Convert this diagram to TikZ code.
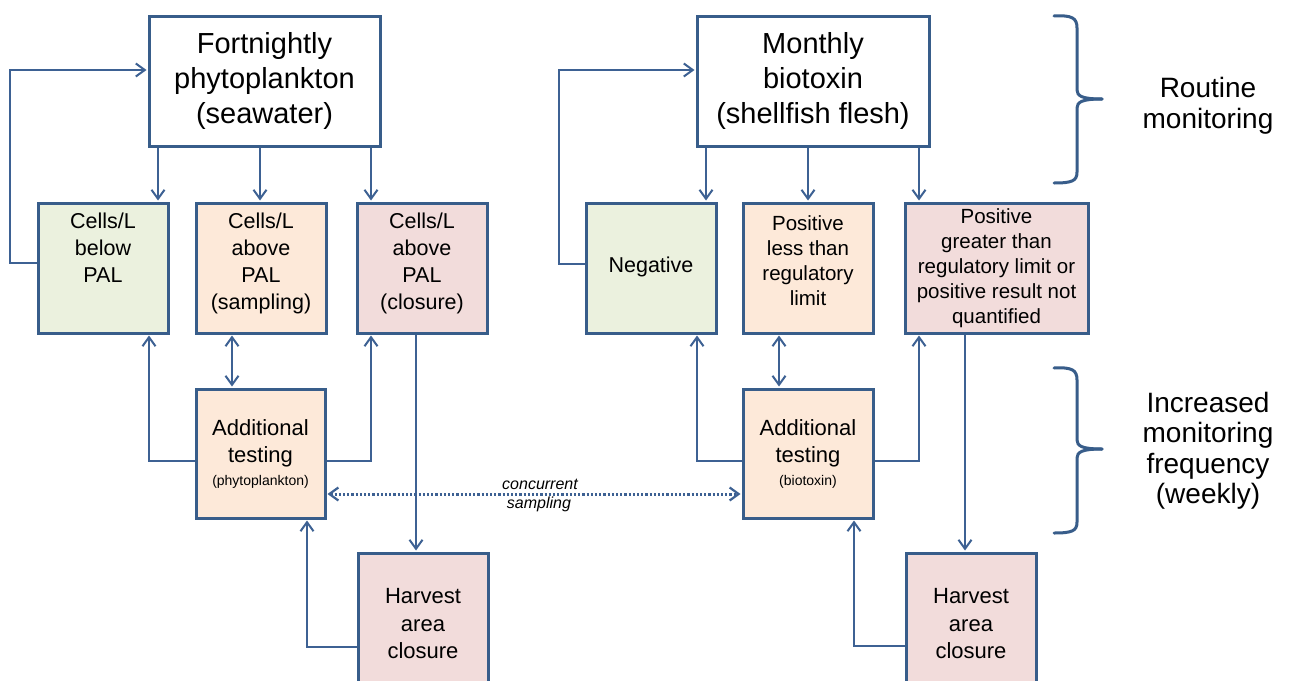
\documentclass[tikz,border=0pt]{standalone}
\usepackage{fontspec}
\setmainfont{Liberation Sans}
\usetikzlibrary{arrows.meta}
\definecolor{bord}{HTML}{385D8A}
\definecolor{ln}{HTML}{3D6193}
\definecolor{fgreen}{HTML}{EBF1DE}
\definecolor{forange}{HTML}{FDE9D9}
\definecolor{fpink}{HTML}{F2DCDB}
\newcommand{\liftup}{\\[-14pt]\mbox{}}
\begin{document}
\begin{tikzpicture}[x=1pt,y=-1pt,
  box/.style={draw=bord,line width=3pt,align=center,inner sep=0pt,text=black},
  titlebox/.style={box,fill=white,minimum width=231pt,minimum height=130pt,font=\fontsize{29}{35}\selectfont},
  rowbox/.style={box,minimum width=130pt,minimum height=130pt,font=\fontsize{21.5}{27}\selectfont},
  conn/.style={draw=ln,line width=2pt,-{Straight Barb[length=9pt,width=13pt]},shorten >=1pt},
  conn2/.style={draw=ln,line width=2pt,{Straight Barb[length=9pt,width=13pt]}-{Straight Barb[length=9pt,width=13pt]},shorten >=1pt,shorten <=1pt},
  dotconn/.style={draw=ln,line width=3pt,dash pattern=on 2.2pt off 2pt,{Straight Barb[length=9pt,width=13pt,line width=2.2pt]}-{Straight Barb[length=9pt,width=13pt,line width=2.2pt]},shorten >=1pt,shorten <=1pt},
  brace/.style={draw=bord,line width=3pt,line cap=round},
  sidetext/.style={align=center,font=\fontsize{28}{30.5}\selectfont,text=black}
]
\useasboundingbox (0,0) rectangle (1289,680);
\fill[white] (0,0) rectangle (1289,680);
\clip (0,0) rectangle (1289,680);

% top boxes
\node[titlebox] (t1) at (264.5,81) {Fortnightly\\phytoplankton\\(seawater)};
\node[titlebox,minimum width=232pt] (t2) at (813,81) {Monthly\\biotoxin\\(shellfish flesh)};

% second row
\node[rowbox,fill=fgreen] (b1) at (103,268) {Cells/L\\below\\PAL\\\phantom{(x)}\liftup};
\node[rowbox,fill=forange] (b2) at (261,268) {Cells/L\\above\\PAL\\(sampling)\liftup};
\node[rowbox,fill=fpink] (b3) at (422,268) {Cells/L\\above\\PAL\\(closure)\liftup};
\node[rowbox,fill=fgreen] (b4) at (651,268) {Negative\\[-20pt]\mbox{}};
\node[rowbox,fill=forange,font=\fontsize{20.5}{25}\selectfont] (b5) at (808,268) {Positive\\less than\\regulatory\\limit\\[-10pt]\mbox{}};
\node[rowbox,fill=fpink,minimum width=183pt,font=\fontsize{20.5}{25}\selectfont] (b6) at (996.5,268) {Positive\\greater than\\regulatory limit or\\positive result not\\quantified};

% additional testing
\node[rowbox,fill=forange,minimum width=129pt,minimum height=129pt,font=\fontsize{22}{27}\selectfont] (a1) at (260.5,453.5) {Additional\\testing\\[-4pt]{\fontsize{14}{17}\selectfont(phytoplankton)}};
\node[rowbox,fill=forange,minimum width=130pt,minimum height=129pt,font=\fontsize{22}{27}\selectfont] (a2) at (808,453.5) {Additional\\testing\\[-4pt]{\fontsize{14}{17}\selectfont(biotoxin)}};

% harvest closure
\node[rowbox,fill=fpink,minimum height=142pt,font=\fontsize{22}{27.5}\selectfont] (h1) at (423,624) {Harvest\\area\\closure};
\node[rowbox,fill=fpink,minimum height=142pt,font=\fontsize{22}{27.5}\selectfont] (h2) at (971,624) {Harvest\\area\\closure};

% left connectors
\draw[conn] (158,0 |- t1.south) -- (158,0 |- b1.north);
\draw[conn] (260,0 |- t1.south) -- (260,0 |- b2.north);
\draw[conn] (371,0 |- t1.south) -- (371,0 |- b3.north);
\draw[conn] (b1.west |- 0,263) -- (10,263) -- (10,70) -- (t1.west |- 0,70);
\draw[conn] (a1.west |- 0,461) -- (149,461) -- (149,0 |- b1.south);
\draw[conn] (a1.east |- 0,461) -- (371,461) -- (371,0 |- b3.south);
\draw[conn2] (232,0 |- b2.south) -- (232,0 |- a1.north);
\draw[conn] (416,0 |- b3.south) -- (416,0 |- h1.north);
\draw[conn] (h1.west |- 0,647) -- (307,647) -- (307,0 |- a1.south);

% right connectors
\draw[conn] (706,0 |- t2.south) -- (706,0 |- b4.north);
\draw[conn] (808,0 |- t2.south) -- (808,0 |- b5.north);
\draw[conn] (919,0 |- t2.south) -- (919,0 |- b6.north);
\draw[conn] (b4.west |- 0,264) -- (559,264) -- (559,70) -- (t2.west |- 0,70);
\draw[conn] (a2.west |- 0,461) -- (697,461) -- (697,0 |- b4.south);
\draw[conn] (a2.east |- 0,461) -- (919,461) -- (919,0 |- b6.south);
\draw[conn2] (779,0 |- b5.south) -- (779,0 |- a2.north);
\draw[conn] (965,0 |- b6.south) -- (965,0 |- h2.north);
\draw[conn] (h2.west |- 0,646) -- (854,646) -- (854,0 |- a2.south);

% concurrent sampling
\draw[dotconn] (a1.east |- 0,494) -- (a2.west |- 0,494);
\node[font=\fontsize{16}{18}\selectfont\itshape,text=black] (cc) at (540,484) {concurrent};
\node[font=\fontsize{16}{18}\selectfont\itshape,text=black] (sm) at (539,504) {sampling};

% braces
\draw[brace] (1054,16) .. controls (1072,15) and (1077,18) .. (1077,28) -- (1077,90)
  .. controls (1077,96) and (1082,99) .. (1102,99);
\draw[brace] (1102,99) .. controls (1082,99) and (1077,102) .. (1077,108) -- (1077,172)
  .. controls (1077,181) and (1072,183) .. (1054,183);
\draw[brace] (1054,368) .. controls (1072,367) and (1077,370) .. (1077,380) -- (1077,440)
  .. controls (1077,446) and (1082,449) .. (1102,449);
\draw[brace] (1102,449) .. controls (1082,449) and (1077,452) .. (1077,458) -- (1077,522)
  .. controls (1077,531) and (1072,533) .. (1054,533);

\node[sidetext] (rm) at (1208,106) {Routine\\monitoring};
\node[sidetext] (im) at (1208,451) {Increased\\monitoring\\frequency\\(weekly)};
\end{tikzpicture}
\end{document}
